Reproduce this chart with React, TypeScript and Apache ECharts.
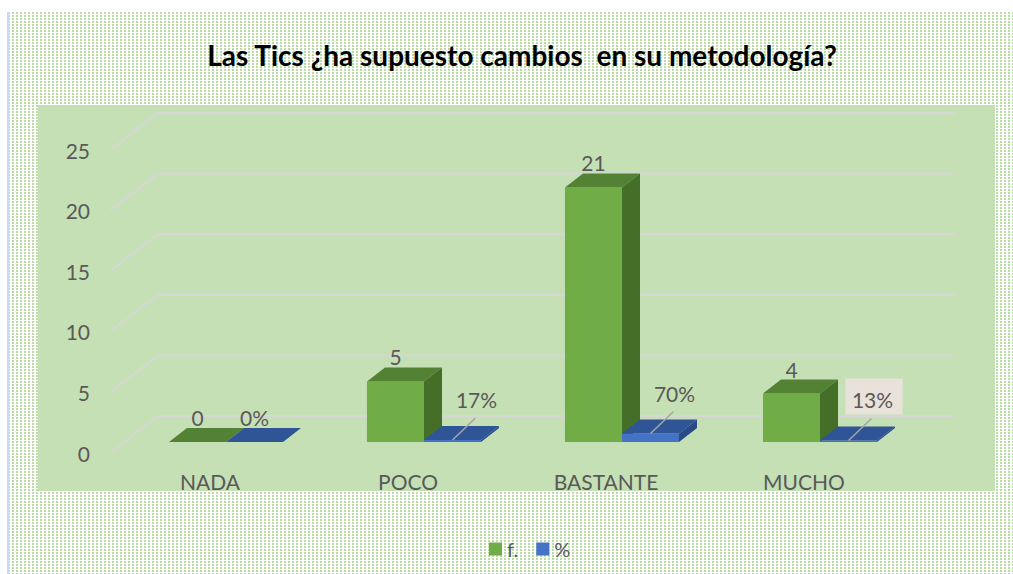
import React, { useEffect, useRef } from "react";
import * as echarts from "echarts";

const titleText = "Las Tics ¿ha supuesto cambios  en su metodología?";
const categories = ["NADA", "POCO", "BASTANTE", "MUCHO"];
const fValues = [0, 5, 21, 4];
const pctValues = [0, 0.17, 0.7, 0.13];
const yTicks = [0, 5, 10, 15, 20, 25];
const seriesNames = ["f.", "%"];
const boxedPctCategory = "MUCHO";

const FONT = 'Lato, "Open Sans", "DejaVu Sans", sans-serif';
const LABEL_COLOR = "#595959";

function makePattern(): any {
  const c = document.createElement("canvas");
  c.width = 4;
  c.height = 3;
  const ctx = c.getContext("2d");
  if (!ctx) return "#e3efda";
  ctx.fillStyle = "#ffffff";
  ctx.fillRect(0, 0, 4, 3);
  ctx.fillStyle = "#bcdca6";
  ctx.fillRect(0, 0, 2, 2);
  return { image: c, repeat: "repeat" };
}

function barRenderer(side: number, face: string, topC: string, sideC: string, isPct: boolean) {
  return (params: any, api: any) => {
    const cat = api.value(0);
    const val = api.value(1);
    const base = api.coord([cat, 0]);
    const top = api.coord([cat, val]);
    const band = api.size([1, 0])[0];
    const w = band * 0.288;
    const x0 = side < 0 ? base[0] - w : base[0];
    const L = x0 + 16;
    const R = L + w;
    const B = base[1] - 11;
    const T = top[1] - 11;
    const dx = 18;
    const dy = -14;
    const children: any[] = [];
    if (B - T > 0.1) {
      children.push({ type: "rect", shape: { x: L, y: T, width: w, height: B - T }, style: { fill: face } });
    }
    children.push({
      type: "polygon",
      shape: { points: [[L, T], [R, T], [R + dx, T + dy], [L + dx, T + dy]] },
      style: { fill: topC },
    });
    if (B - T > 0.1) {
      children.push({
        type: "polygon",
        shape: { points: [[R, T], [R + dx, T + dy], [R + dx, B + dy], [R, B]] },
        style: { fill: sideC },
      });
    }
    const cx = (L + R) / 2;
    const text = isPct ? Math.round(val * 100) + "%" : String(val);
    const textStyle = { fontSize: 21, fontFamily: FONT, fill: LABEL_COLOR };
    if (!isPct || val === 0) {
      children.push({
        type: "text",
        style: { ...textStyle, text, x: cx, y: T + dy, align: "center", verticalAlign: "bottom" },
      });
    } else {
      const tx = cx + 24;
      const ty = T - 30;
      if (categories[cat] === boxedPctCategory) {
        children.push({
          type: "rect",
          shape: { x: tx - 27, y: ty - 32, width: 57, height: 36 },
          style: { fill: "#e9e2da" },
        });
      }
      children.push({
        type: "line",
        shape: { x1: cx, y1: T, x2: tx - 1, y2: T - 22 },
        style: { stroke: "#a6a6a6", lineWidth: 1.5 },
      });
      children.push({
        type: "text",
        style: { ...textStyle, text, x: tx, y: ty, align: "center", verticalAlign: "bottom" },
      });
    }
    return { type: "group", children };
  };
}

export default function App() {
  const ref = useRef<HTMLDivElement>(null);
  useEffect(() => {
    if (!ref.current) return;
    const chart = echarts.init(ref.current, undefined, { renderer: "svg" });
    const pattern = makePattern();
    chart.setOption({
      animation: false,
      backgroundColor: "#ffffff",
      textStyle: { fontFamily: FONT },
      title: {
        text: titleText,
        left: 517,
        top: 36,
        textAlign: "center",
        textStyle: { fontFamily: FONT, fontSize: 28, fontWeight: "bold", color: "#000000" },
      },
      graphic: [
        { type: "rect", z: -10, shape: { x: 8, y: 12, width: 1005, height: 562 }, style: { fill: pattern } },
        { type: "line", z: -9, shape: { x1: 8, y1: 12, x2: 8, y2: 574 }, style: { stroke: "#c9dcef", lineWidth: 2 } },
        { type: "rect", z: -8, shape: { x: 38, y: 105, width: 957, height: 386 }, style: { fill: "#c5e0b4" } },
      ],
      legend: {
        data: seriesNames,
        left: 484,
        top: 534,
        itemWidth: 13,
        itemHeight: 13,
        itemGap: 18,
        icon: "rect",
        textStyle: { fontFamily: FONT, fontSize: 20, color: LABEL_COLOR },
      },
      grid: { left: 111, right: 110, top: 150, bottom: 121 },
      xAxis: {
        type: "category",
        data: categories,
        axisLine: { show: false },
        axisTick: { show: false },
        axisLabel: { fontFamily: FONT, fontSize: 21, color: LABEL_COLOR, margin: 18 },
        splitLine: { show: false },
      },
      yAxis: {
        type: "value",
        min: 0,
        max: 25,
        interval: 5,
        axisLine: { show: false },
        axisTick: { show: false },
        splitLine: { show: false },
        axisLabel: { fontFamily: FONT, fontSize: 21, color: LABEL_COLOR, margin: 21 },
      },
      series: [
        {
          type: "custom",
          name: "grid3d",
          silent: true,
          data: yTicks.map((v) => [0, v]),
          renderItem: (params: any, api: any) => {
            const p = api.coord([0, api.value(1)]);
            const cs = params.coordSys;
            return {
              type: "polyline",
              shape: {
                points: [
                  [cs.x - 1, p[1]],
                  [cs.x + 47, p[1] - 37],
                  [cs.x + cs.width + 52, p[1] - 37],
                ],
              },
              style: { stroke: "#d6d6d6", lineWidth: 2, fill: null },
            };
          },
        },
        {
          type: "custom",
          name: seriesNames[0],
          itemStyle: { color: "#70ad47" },
          data: fValues.map((v, i) => [i, v]),
          renderItem: barRenderer(-1, "#70ad47", "#548235", "#456e29", false),
        },
        {
          type: "custom",
          name: seriesNames[1],
          itemStyle: { color: "#4472c4" },
          data: pctValues.map((v, i) => [i, v]),
          renderItem: barRenderer(1, "#4472c4", "#2f5597", "#2a4b87", true),
        },
      ],
    });
    return () => chart.dispose();
  }, []);
  return <div ref={ref} style={{ position: "absolute", left: 0, top: 0, width: 1013, height: 574 }} />;
}
